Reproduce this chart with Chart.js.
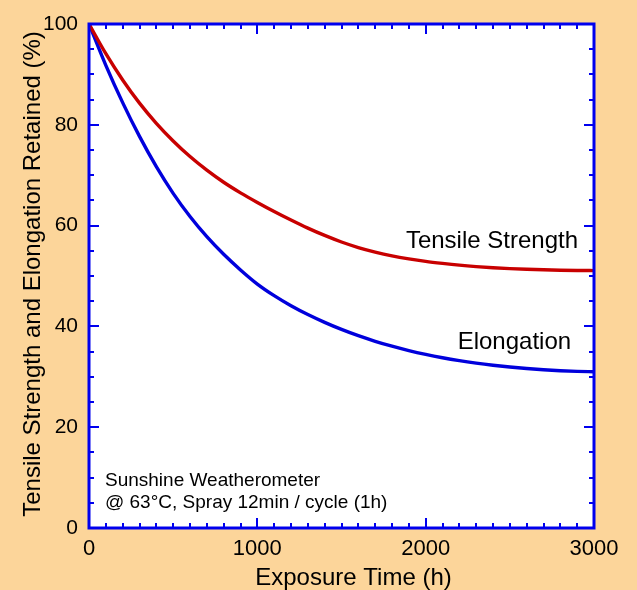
<!DOCTYPE html>
<html>
<head>
<meta charset="utf-8">
<script src="https://cdn.jsdelivr.net/npm/chart.js@4"></script>
<style>
html,body{margin:0;padding:0;background:#FCD59A;}
canvas{display:block;}
</style>
</head>
<body>
<canvas id="c" width="637" height="590"></canvas>
<script>
const hours = [0,100,200,300,400,500,600,700,800,900,1000,1100,1200,1300,1400,1500,1600,1700,1800,1900,2000,2100,2200,2300,2400,2500,2600,2700,2800,2900,3000];
const tensile = [100,94.1,88.9,84.3,80.3,76.8,73.7,71.0,68.6,66.5,64.6,62.8,61.1,59.5,58.05,56.75,55.65,54.75,54.0,53.4,52.9,52.5,52.15,51.87,51.65,51.47,51.33,51.23,51.15,51.1,51.07];
const elongation = [100,91.8,84.4,77.7,71.7,66.4,61.8,57.8,54.3,51.2,48.4,46.1,44.1,42.35,40.8,39.4,38.15,37.05,36.07,35.2,34.44,33.78,33.21,32.72,32.3,31.94,31.64,31.4,31.21,31.08,31.0];
const xTicks = [0,1000,2000,3000];
const yTicks = [0,20,40,60,80,100];
const seriesNames = ["Tensile Strength","Elongation"];
const noteLines = ["Sunshine Weatherometer","@ 63\u00B0C, Spray 12min / cycle (1h)"];
const xTitle = "Exposure Time (h)";
const yTitle = "Tensile Strength and Elongation Retained (%)";

const FONT = "'Liberation Sans', Arial, Helvetica, sans-serif";
const AXIS = "#0000EE";
const BG = "#FCD59A";

const framePlugin = {
  id: 'frame',
  beforeDraw(chart) {
    const {ctx, chartArea: a} = chart;
    ctx.save();
    ctx.fillStyle = BG;
    ctx.fillRect(0, 0, chart.width, chart.height);
    ctx.fillStyle = '#FFFFFF';
    ctx.fillRect(a.left, a.top, a.right - a.left, a.bottom - a.top);
    ctx.restore();
  },
  afterDatasetsDraw(chart) {
    const {ctx, chartArea: a, scales: {x, y}} = chart;
    ctx.save();
    ctx.strokeStyle = AXIS;
    ctx.lineWidth = 2;
    ctx.beginPath();
    for (let v = x.min; v <= x.max; v += 100) {
      const px = Math.round(x.getPixelForValue(v));
      const len = (v % 1000 === 0) ? 10 : 5;
      ctx.moveTo(px, a.bottom); ctx.lineTo(px, a.bottom - len);
      ctx.moveTo(px, a.top); ctx.lineTo(px, a.top + len);
    }
    for (let v = y.min; v <= y.max; v += 5) {
      const py = Math.round(y.getPixelForValue(v));
      const len = (v % 20 === 0) ? 10 : 5;
      ctx.moveTo(a.left, py); ctx.lineTo(a.left + len, py);
      ctx.moveTo(a.right, py); ctx.lineTo(a.right - len, py);
    }
    ctx.stroke();
    ctx.lineWidth = 3;
    ctx.strokeRect(a.left, a.top, a.right - a.left, a.bottom - a.top);

    ctx.fillStyle = '#000000';
    ctx.textBaseline = 'middle';
    ctx.font = '24px ' + FONT;
    ctx.textAlign = 'right';
    ctx.fillText(seriesNames[0], x.getPixelForValue(2905), y.getPixelForValue(56.9));
    ctx.fillText(seriesNames[1], x.getPixelForValue(2864), y.getPixelForValue(36.9));
    ctx.font = '19px ' + FONT;
    ctx.textAlign = 'left';
    ctx.fillText(noteLines[0], x.getPixelForValue(95), y.getPixelForValue(9.4));
    ctx.fillText(noteLines[1], x.getPixelForValue(95), y.getPixelForValue(5.0));

    // axis titles
    ctx.font = '24px ' + FONT;
    ctx.textAlign = 'center';
    ctx.fillText(xTitle, (a.left + a.right) / 2 + 12, chart.height - 12);
    ctx.save();
    ctx.translate(33, (a.top + a.bottom) / 2 - 2);
    ctx.rotate(-Math.PI / 2);
    ctx.fillText(yTitle, 0, 0);
    ctx.restore();
    ctx.restore();
  }
};

new Chart(document.getElementById('c'), {
  type: 'line',
  data: {
    labels: hours,
    datasets: [
      {label: seriesNames[0], data: hours.map((h, i) => ({x: h, y: tensile[i]})), borderColor: '#C80000', borderWidth: 3.4, pointRadius: 0, cubicInterpolationMode: 'monotone'},
      {label: seriesNames[1], data: hours.map((h, i) => ({x: h, y: elongation[i]})), borderColor: '#0000DC', borderWidth: 3.4, pointRadius: 0, cubicInterpolationMode: 'monotone'}
    ]
  },
  options: {
    responsive: false,
    animation: false,
    devicePixelRatio: 1,
    layout: {padding: {top: 24, right: 43, left: 0, bottom: 0}},
    plugins: {legend: {display: false}, tooltip: {enabled: false}},
    scales: {
      x: {
        type: 'linear', min: 0, max: 3000,
        afterBuildTicks(s) { s.ticks = xTicks.map(v => ({value: v})); },
        afterFit(s) { s.height = 62; },
        grid: {display: false, drawTicks: false},
        border: {display: false},
        ticks: {color: '#000', font: {family: FONT, size: 22}, padding: 8, maxRotation: 0, autoSkip: false, callback: v => String(v)},
        title: {display: false}
      },
      y: {
        type: 'linear', min: 0, max: 100,
        afterBuildTicks(s) { s.ticks = yTicks.map(v => ({value: v})); },
        afterFit(s) { s.width = 89; },
        grid: {display: false, drawTicks: false},
        border: {display: false},
        ticks: {color: '#000', font: {family: FONT, size: 21}, padding: 11, autoSkip: false, callback: v => String(v)},
        title: {display: false}
      }
    }
  },
  plugins: [framePlugin]
});
</script>
</body>
</html>
